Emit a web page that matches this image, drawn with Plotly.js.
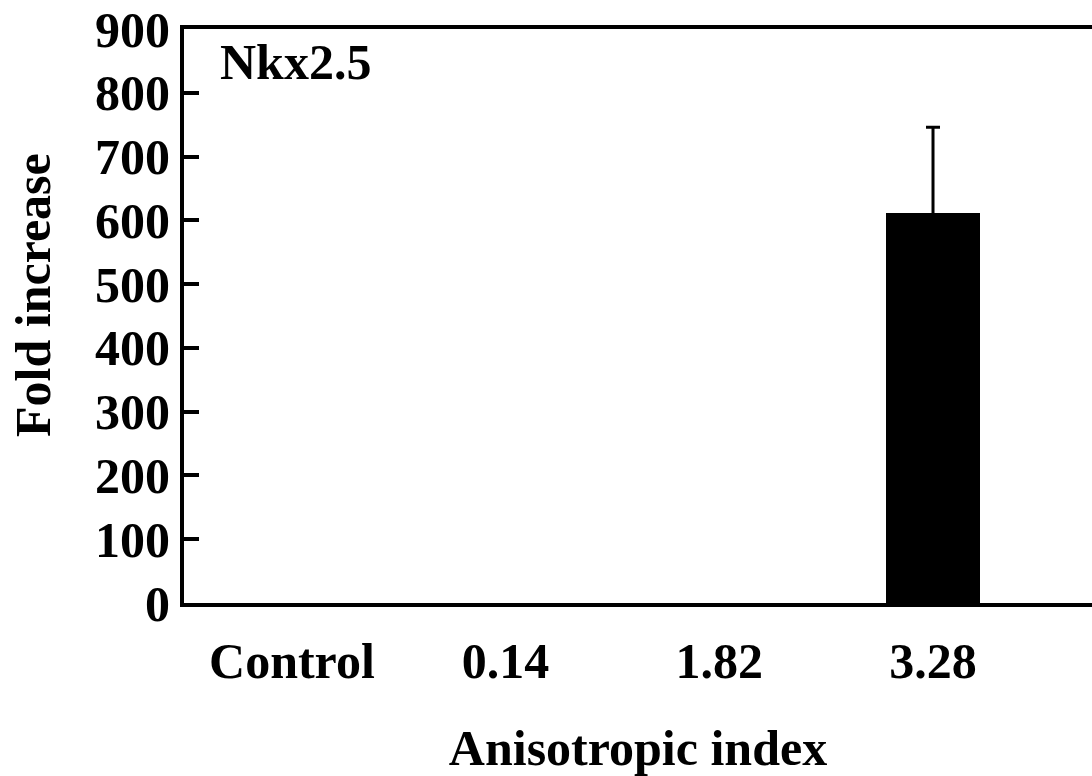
<!DOCTYPE html>
<html>
<head>
<meta charset="utf-8">
<script src="https://cdn.plot.ly/plotly-3.0.1.min.js"></script>
<style>html,body{margin:0;padding:0;background:#fff;}#chart{width:1092px;height:776px;}</style>
</head>
<body>
<div id="chart"></div>
<script>
const categories = ["Control", "0.14", "1.82", "3.28"];
const foldIncrease = [0, 0, 0, 612];
const errorUp = [0, 0, 0, 134];
const yTickValues = [0, 100, 200, 300, 400, 500, 600, 700, 800, 900];
const panelLabel = "Nkx2.5";
const xTitle = "Anisotropic index";
const yTitle = "Fold increase";

const font = {family: "Liberation Serif, Times New Roman, serif", size: 50, color: "#000", weight: "bold"};

const withErr = categories.map((c, i) => i).filter(i => errorUp[i] > 0);

const bars = {
  type: "bar",
  x: categories,
  y: foldIncrease,
  width: 0.44,
  marker: {color: "#000", line: {width: 0}},
  hoverinfo: "skip"
};
const errs = {
  type: "scatter",
  mode: "markers",
  x: withErr.map(i => categories[i]),
  y: withErr.map(i => foldIncrease[i]),
  marker: {size: 1, opacity: 0},
  error_y: {type: "data", symmetric: false, array: withErr.map(i => errorUp[i]), arrayminus: withErr.map(i => errorUp[i]), color: "#000", thickness: 3, width: 7},
  hoverinfo: "skip"
};

const layout = {
  width: 1092, height: 776,
  margin: {l: 184, r: 0, t: 29, b: 173, pad: 0},
  paper_bgcolor: "#fff", plot_bgcolor: "#fff",
  showlegend: false,
  font: font,
  bargap: 0,
  xaxis: {
    type: "category",
    categoryorder: "array", categoryarray: categories,
    range: [-0.505, 3.744],
    showline: true, linecolor: "#000", linewidth: 4, mirror: true,
    ticks: "", showgrid: false, zeroline: false,
    tickfont: font,
    ticklabelstandoff: 11,
    title: {text: xTitle, font: font, standoff: 47}
  },
  yaxis: {
    range: [0, 900],
    tickvals: yTickValues,
    ticktext: yTickValues.map(String),
    showline: true, linecolor: "#000", linewidth: 4, mirror: false,
    ticks: "inside", ticklen: 15, tickwidth: 4, tickcolor: "#000",
    showgrid: false, zeroline: false,
    tickfont: font
  },
  annotations: [{
    text: panelLabel, xref: "paper", yref: "paper",
    x: 0.0374, y: 0.942, xanchor: "left", yanchor: "middle",
    showarrow: false, font: font
  }, {
    text: yTitle, xref: "paper", yref: "paper",
    x: -0.1663, y: 0.5366, xanchor: "center", yanchor: "middle",
    textangle: -90, showarrow: false, font: font
  }]
};

Plotly.newPlot("chart", [bars, errs], layout, {displayModeBar: false, staticPlot: true});
</script>
</body>
</html>
